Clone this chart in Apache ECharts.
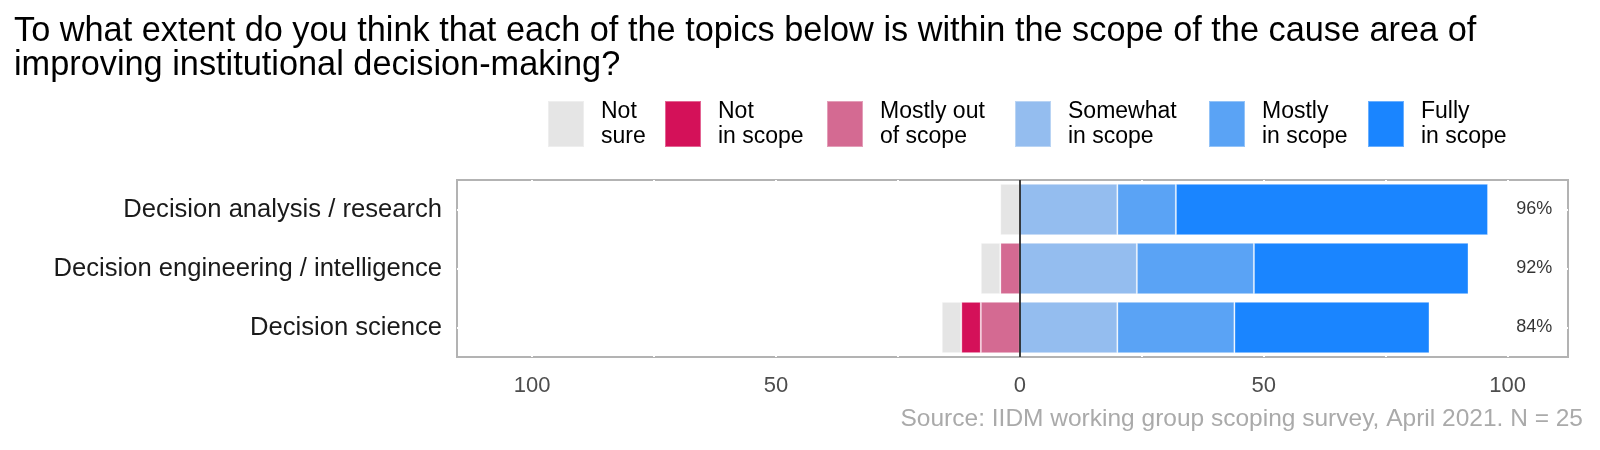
<!DOCTYPE html>
<html>
<head>
<meta charset="utf-8">
<script src="https://cdn.jsdelivr.net/npm/echarts@6/dist/echarts.min.js"></script>
<style>html,body{margin:0;padding:0;background:#fff}#c{width:1600px;height:450px}</style>
</head>
<body>
<div id="c"></div>
<script>
const categories = ['Decision analysis / research', 'Decision engineering / intelligence', 'Decision science'];
const notSure = [4, 4, 4];
const notInScope = [0, 0, 4];
const mostlyOut = [0, 4, 8];
const somewhat = [20, 24, 20];
const mostly = [12, 24, 24];
const fully = [64, 44, 40];
const tickLabels = [-100, -50, 0, 50, 100];
const gridTicks = [-100, -75, -50, -25, 0, 25, 50, 75, 100];
const labelX = 105.5;

const FONT = 'Liberation Sans, Arial, sans-serif';
const names = ['Not\nsure', 'Not\nin scope', 'Mostly out\nof scope', 'Somewhat\nin scope', 'Mostly\nin scope', 'Fully\nin scope'];
const colors = ['#e5e5e5', '#d41159', '#d46a92', '#94bdef', '#5aa3f5', '#1a85ff'];
const legendLeft = [547, 664, 826, 1014, 1208, 1367];

function bar(name, color, vals, neg, extra) {
  return Object.assign({
    name: name, type: 'bar', stack: neg ? 'neg' : 'pos',
    data: vals.map(v => neg ? -v : v),
    barWidth: '87%', barGap: '-100%',
    itemStyle: { color: color, borderColor: 'rgba(255,255,255,0.35)', borderWidth: 1 },
    emphasis: { disabled: true }
  }, extra || {});
}

const totals = categories.map((c, i) => somewhat[i] + mostly[i] + fully[i]);

const chart = echarts.init(document.getElementById('c'));
chart.setOption({
  animation: false,
  textStyle: { fontFamily: FONT },
  title: {
    text: 'To what extent do you think that each of the topics below is within the scope of the cause area of\nimproving institutional decision-making?',
    left: 14, top: 15, padding: 0,
    textStyle: { fontSize: 34.3, fontWeight: 'normal', color: '#000', lineHeight: 34, fontFamily: FONT }
  },
  graphic: [{
    type: 'text', right: 17, top: 407,
    style: { text: 'Source: IIDM working group scoping survey, April 2021. N = 25', fill: '#aaaaaa', font: '24.5px ' + FONT }
  }],
  legend: names.map((n, i) => ({
    data: [n], left: legendLeft[i], top: 96, padding: 0,
    itemWidth: 36, itemHeight: 46, itemGap: 0,
    icon: 'rect', selectedMode: false,
    textStyle: { fontSize: 23, lineHeight: 25, color: '#000', padding: [6, 0, 0, 12] }
  })),
  grid: {
    left: 457, right: 32, top: 180, bottom: 93,
    show: true, borderColor: '#b3b3b3', borderWidth: 2, backgroundColor: '#fff'
  },
  xAxis: {
    type: 'value', min: -115.4, max: 112.4,
    axisLine: { show: false },
    axisTick: { show: false, customValues: gridTicks },
    splitLine: { show: true, lineStyle: { color: '#fff', width: 2 } },
    axisLabel: {
      customValues: tickLabels,
      formatter: v => String(Math.abs(v)),
      fontSize: 22, color: '#4d4d4d', margin: 18
    }
  },
  yAxis: {
    type: 'category', data: categories, inverse: true,
    axisLine: { show: false }, axisTick: { show: false },
    axisLabel: { fontSize: 25.6, color: '#1a1a1a', margin: 15 },
    splitLine: { show: false }
  },
  series: [
    bar(names[2], colors[2], mostlyOut, true, {
      markLine: {
        silent: true, symbol: 'none', label: { show: false },
        lineStyle: { color: '#000', width: 1.5, type: 'solid' },
        data: [{ xAxis: 0 }]
      }
    }),
    bar(names[1], colors[1], notInScope, true),
    bar(names[0], colors[0], notSure, true, {
      markLine: {
        silent: true, symbol: 'none', label: { show: false }, z: 1,
        lineStyle: { color: '#fff', width: 2, type: 'solid' },
        data: categories.map(c => ({ yAxis: c }))
      }
    }),
    bar(names[3], colors[3], somewhat, false),
    bar(names[4], colors[4], mostly, false),
    bar(names[5], colors[5], fully, false),
    {
      type: 'scatter', symbolSize: 0, silent: true,
      data: categories.map((c, i) => [labelX, c, totals[i]]),
      label: { show: true, position: 'inside', formatter: p => p.data[2] + '%', fontSize: 18, color: '#000' }
    }
  ]
});
</script>
</body>
</html>
